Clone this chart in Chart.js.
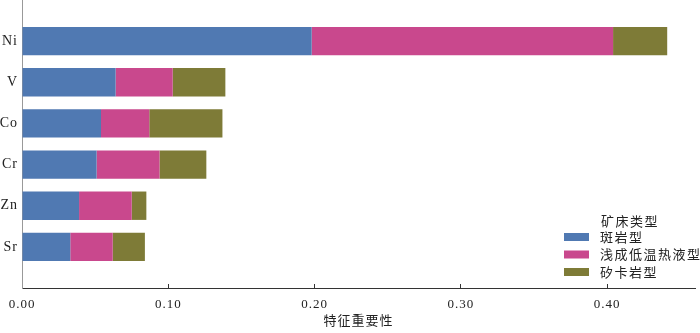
<!DOCTYPE html>
<html>
<head>
<meta charset="utf-8">
<script src="https://cdn.jsdelivr.net/npm/chart.js@4"></script>
<style>
  html, body { margin: 0; padding: 0; background: #fff; }
</style>
</head>
<body>
<canvas id="chart" width="700" height="333"></canvas>
<script>
// Feature importance per element, stacked by deposit type
const elements = ["Ni", "V", "Co", "Cr", "Zn", "Sr"];
const porphyry = [0.198, 0.064, 0.054, 0.051, 0.039, 0.033];
const epithermal = [0.206, 0.039, 0.033, 0.043, 0.036, 0.029];
const skarn = [0.037, 0.036, 0.050, 0.032, 0.010, 0.022];
const seriesNames = ["斑岩型", "浅成低温热液型", "矽卡岩型"];
const legendTitle = "矿床类型";
const xTicks = [0, 0.1, 0.2, 0.3, 0.4];
const xTitle = "特征重要性";

const colors = ["#5079b2", "#c9488d", "#7e7b37"];
const serif = "'Liberation Serif', 'Times New Roman', serif";
const cjk = "'Noto Sans CJK SC', sans-serif";

// one empty slot above and below so the bars sit like the original
const labels = ["", ...elements, ""];
const pad = arr => [null, ...arr, null];

const spacing = {
  id: "spacing",
  beforeDraw(chart) {
    chart.ctx.letterSpacing = "1px";
  }
};

// legend sits inside the plot, bottom right
const insideLegend = {
  id: "insideLegend",
  afterDraw(chart) {
    const ctx = chart.ctx;
    ctx.save();
    ctx.letterSpacing = "1.5px";
    ctx.fillStyle = "#222";
    ctx.textBaseline = "middle";
    ctx.font = "13px " + cjk;
    ctx.fillText(legendTitle, 601, 221);
    seriesNames.forEach((name, i) => {
      const y = 237 + i * 17.5;
      ctx.fillStyle = colors[i];
      ctx.fillRect(564, y - 4, 25, 8);
      ctx.fillStyle = "#222";
      ctx.fillText(name, 600, y);
    });
    ctx.restore();
  }
};

new Chart(document.getElementById("chart"), {
  type: "bar",
  data: {
    labels,
    datasets: [
      { label: seriesNames[0], data: pad(porphyry), backgroundColor: colors[0] },
      { label: seriesNames[1], data: pad(epithermal), backgroundColor: colors[1] },
      { label: seriesNames[2], data: pad(skarn), backgroundColor: colors[2] }
    ]
  },
  options: {
    indexAxis: "y",
    responsive: false,
    animation: false,
    devicePixelRatio: 1,
    layout: { padding: { top: 0, right: 5, left: 0, bottom: 0 } },
    datasets: { bar: { barPercentage: 0.69, categoryPercentage: 1, borderWidth: 0 } },
    plugins: { legend: { display: false }, tooltip: { enabled: false } },
    scales: {
      x: {
        stacked: true,
        min: 0,
        max: 0.46,
        afterBuildTicks: s => { s.ticks = xTicks.map(v => ({ value: v })); },
        afterFit: s => { s.height = 45; s.paddingLeft = 0; s.paddingRight = 0; },
        grid: { drawOnChartArea: false, drawTicks: true, tickLength: -4, color: "#333" },
        border: { display: true, color: "#333", width: 1 },
        ticks: {
          padding: 13,
          color: "#222",
          font: { family: serif, size: 13 },
          callback: v => Number(v).toFixed(2)
        },
        title: {
          display: true,
          text: xTitle,
          color: "#222",
          font: { family: cjk, size: 13 },
          padding: { top: 0, bottom: 5 }
        }
      },
      y: {
        stacked: true,
        offset: false,
        afterFit: s => { s.width = 22; s.paddingTop = 0; s.paddingBottom = 0; },
        grid: { drawOnChartArea: false, drawTicks: false },
        border: { display: true, color: "#999", width: 1 },
        ticks: {
          padding: 4,
          color: "#222",
          autoSkip: false,
          font: { family: serif, size: 14 }
        }
      }
    }
  },
  plugins: [spacing, insideLegend]
});
</script>
</body>
</html>
